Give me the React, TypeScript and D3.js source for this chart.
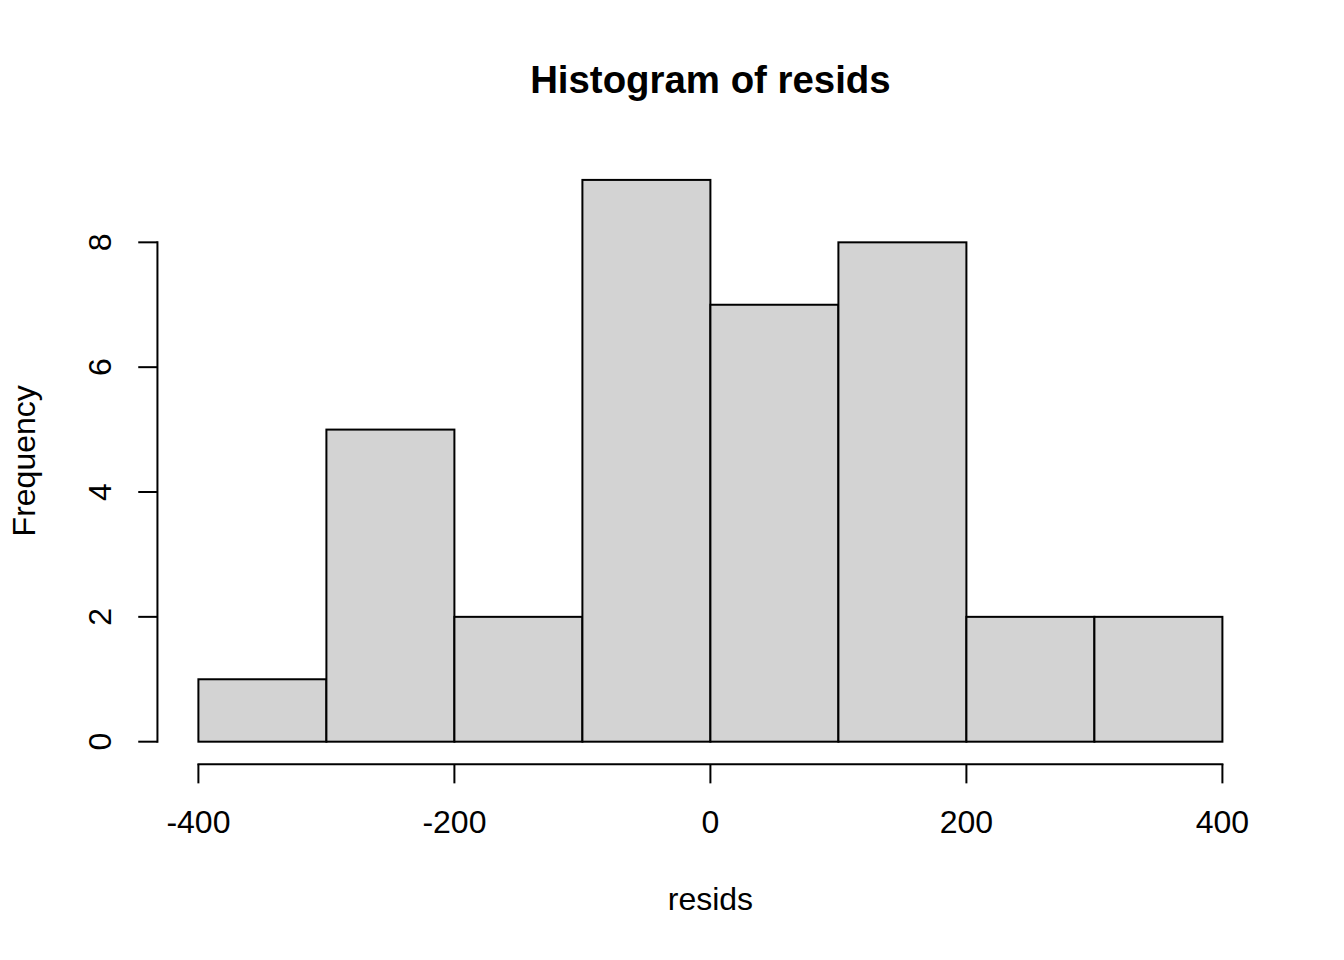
import React from "react";
import * as d3 from "d3";

const binStarts = [-400, -300, -200, -100, 0, 100, 200, 300];
const binWidth = 100;
const counts = [1, 5, 2, 9, 7, 8, 2, 2];
const xTicks = [-400, -200, 0, 200, 400];
const yTicks = [0, 2, 4, 6, 8];
const title = "Histogram of resids";
const xLabel = "resids";
const yLabel = "Frequency";

const W = 1344;
const H = 960;
const LINE = 38.4;
const mar = { bottom: 5.1, left: 4.1, top: 4.1, right: 2.1 };

export default function App() {
  const left = mar.left * LINE;
  const right = W - mar.right * LINE;
  const top = mar.top * LINE;
  const bottom = H - mar.bottom * LINE;

  const xmin = -400, xmax = 400;
  const xpad = (xmax - xmin) * 0.04;
  const x = d3.scaleLinear().domain([xmin - xpad, xmax + xpad]).range([left, right]);
  const ymax = d3.max(counts) as number;
  const ypad = ymax * 0.04;
  const y = d3.scaleLinear().domain([-ypad, ymax + ypad]).range([bottom, top]);

  const font = "'Liberation Sans', Arial, sans-serif";
  const tick = 0.5 * LINE;

  return (
    <svg width={W} height={H} style={{ position: "absolute", left: 0, top: 0, background: "#fff" }} fontFamily={font}>
      <rect x={0} y={0} width={W} height={H} fill="#fff" />
      {binStarts.map((b, i) => (
        <rect
          key={i}
          x={x(b)}
          y={y(counts[i])}
          width={x(b + binWidth) - x(b)}
          height={y(0) - y(counts[i])}
          fill="#D3D3D3"
          stroke="#000"
          strokeWidth={2}
        />
      ))}
      {/* x axis */}
      <line x1={x(xTicks[0])} x2={x(xTicks[xTicks.length - 1])} y1={bottom} y2={bottom} stroke="#000" strokeWidth={2} strokeLinecap="square" />
      {xTicks.map((t) => (
        <g key={t}>
          <line x1={x(t)} x2={x(t)} y1={bottom} y2={bottom + tick} stroke="#000" strokeWidth={2} />
          <text x={x(t)} y={bottom + 1.8 * LINE} fontSize={32} textAnchor="middle">{t}</text>
        </g>
      ))}
      {/* y axis */}
      <line x1={left} x2={left} y1={y(yTicks[0])} y2={y(yTicks[yTicks.length - 1])} stroke="#000" strokeWidth={2} strokeLinecap="square" />
      {yTicks.map((t) => (
        <g key={t}>
          <line x1={left} x2={left - tick} y1={y(t)} y2={y(t)} stroke="#000" strokeWidth={2} />
          <text transform={`translate(${left - 1.2 * LINE},${y(t)}) rotate(-90)`} fontSize={32} textAnchor="middle">{t}</text>
        </g>
      ))}
      <text x={(left + right) / 2} y={93} fontSize={38.4} fontWeight="bold" textAnchor="middle">{title}</text>
      <text x={(left + right) / 2} y={bottom + 3.8 * LINE} fontSize={32} textAnchor="middle">{xLabel}</text>
      <text transform={`translate(${left - 3.2 * LINE},${(top + bottom) / 2}) rotate(-90)`} fontSize={32} textAnchor="middle">{yLabel}</text>
    </svg>
  );
}
